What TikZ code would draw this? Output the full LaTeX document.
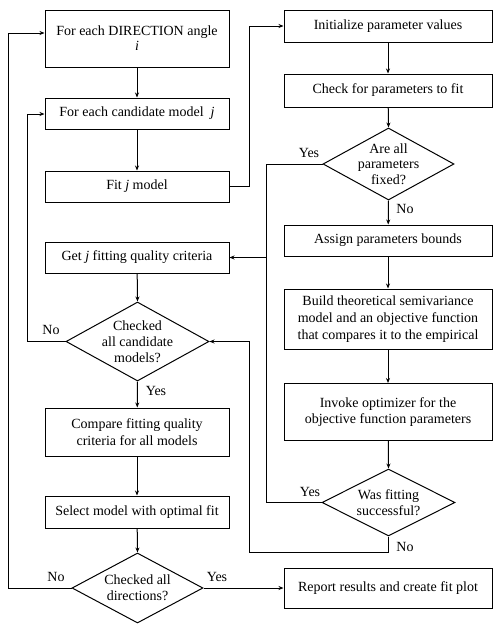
\documentclass[tikz,border=0pt]{standalone}
\usepackage{fontspec}
\setmainfont{Liberation Serif}
\usetikzlibrary{shapes.geometric,arrows.meta}
\begin{document}
\begin{tikzpicture}[x=1pt,y=-1pt,
  every node/.style={font=\fontsize{14}{16.7}\selectfont},
  lbox/.style={draw, line width=1pt, minimum width=184pt, align=center, inner sep=0pt},
  rbox/.style={draw, line width=1pt, minimum width=208pt, align=center, inner sep=0pt},
  dia/.style={draw, diamond, line width=1pt, inner sep=0pt},
  dtext/.style={align=center, inner sep=0pt, font=\fontsize{14}{16}\selectfont},
  lbl/.style={inner sep=0pt},
  arr/.style={line width=1pt, -{Stealth[length=5pt,width=4pt]}},
  ln/.style={line width=1pt}]
\useasboundingbox (0,0) rectangle (500,632);
% left column
\node[lbox, minimum height=57pt, font=\fontsize{14}{15}\selectfont] (b1) at (137,38.5) {For each DIRECTION angle\\\textit{i}};
\node[lbox, minimum height=31pt] (b2) at (137,113.5) {For each candidate model \ \textit{j}};
\node[lbox, minimum height=31pt] (b3) at (137,186.5) {Fit \textit{j} model};
\node[lbox, minimum height=31pt] (g) at (137,257.5) {Get \textit{j} fitting quality criteria};
\node[dia, minimum width=143pt, minimum height=79pt] (d1) at (137.5,341.5) {};
\node[dtext] (d1t) at (d1) {Checked\\all candidate\\models?};
\node[lbox, minimum height=48pt] (cmp) at (137,432) {Compare fitting quality\\criteria for all models};
\node[lbox, minimum height=32pt] (sel) at (137,512) {Select model with optimal fit};
\node[dia, minimum width=131pt, minimum height=70pt] (d2) at (137.5,588) {};
\node[dtext] (d2t) at (d2) {Checked all\\directions?};
% right column
\node[rbox, minimum height=32pt] (r1) at (388,26) {Initialize parameter values};
\node[rbox, minimum height=33pt] (r2) at (388,90.5) {Check for parameters to fit};
\node[dia, minimum width=131pt, minimum height=72pt] (rd1) at (388.5,164) {};
\node[dtext, font=\fontsize{14}{15.5}\selectfont] (rd1t) at (rd1) {Are all\\parameters\\fixed?};
\node[rbox, minimum height=31pt] (r3) at (388,240.5) {Assign parameters bounds};
\node[rbox, minimum height=60pt] (r4) at (388,319) {Build theoretical semivariance\\model and an objective function\\that compares it to the empirical};
\node[rbox, minimum height=57pt] (r5) at (388,412) {Invoke optimizer for the\\objective function parameters};
\node[dia, minimum width=133pt, minimum height=67pt] (rd2) at (388.5,502.5) {};
\node[dtext] (rd2t) at (rd2) {Was fitting\\successful?};
\node[rbox, minimum height=40pt] (r6) at (388,588) {Report results and create fit plot};
% helper coordinates
\coordinate (xa) at (8,0);
\coordinate (xb) at (27,0);
\coordinate (xr) at (249,0);
\coordinate (xy) at (266,0);
\coordinate (nlow) at (249,552);
% connectors
\draw[arr] (b1) -- (b2);
\draw[arr] (b2) -- (b3);
\draw[arr] (b3.east) -- (b3.east -| xr) |- (r1.west);
\draw[arr] (r1) -- (r2);
\draw[arr] (r2) -- (rd1.north);
\draw[arr] (rd1.south) -- (r3);
\draw[arr] (rd1.west) -- (rd1.west -| xy) |- (g.east);
\draw[ln] (rd2.west) -| (xy |- g.east);
\draw[arr] (r3) -- (r4);
\draw[arr] (r4) -- (r5);
\draw[arr] (r5) -- (rd2.north);
\draw[arr] (rd2.south) |- (nlow) |- (d1.east);
\draw[arr] (g) -- (d1.north);
\draw[arr] (d1.south) -- (cmp);
\draw[arr] (d1.west) -- (d1.west -| xb) |- ([yshift=-0.5pt]b2.west);
\draw[arr] (cmp) -- (sel);
\draw[arr] (sel) -- (d2.north);
\draw[arr] (d2.west) -- (d2.west -| xa) |- ([yshift=5.5pt]b1.west);
\draw[arr] (d2.east) -- (r6.west);
% labels
\node[lbl] (l1) at (309,153) {Yes};
\node[lbl] (l2) at (405,209) {No};
\node[lbl] (l3) at (310,492) {Yes};
\node[lbl] (l4) at (405,547) {No};
\node[lbl] (l5) at (51,330) {No};
\node[lbl] (l6) at (156,391) {Yes};
\node[lbl] (l7) at (56,577) {No};
\node[lbl] (l8) at (217,577) {Yes};
\end{tikzpicture}
\end{document}
